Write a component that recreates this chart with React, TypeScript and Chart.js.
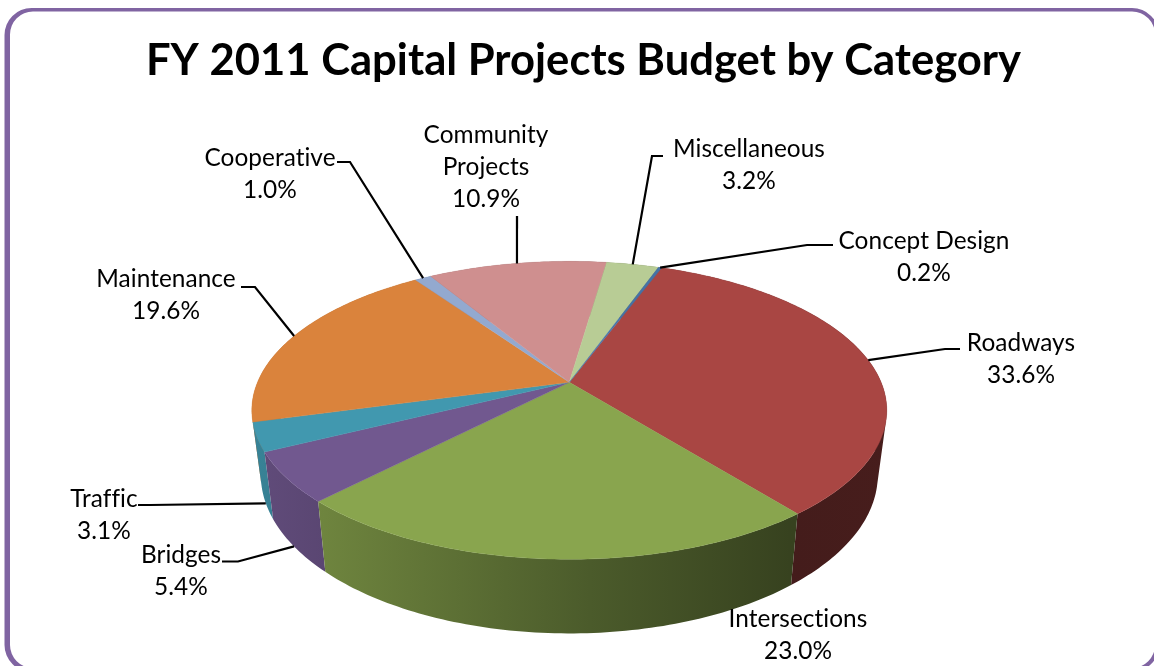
import React, { useEffect, useRef } from "react";
import { Chart, registerables } from "chart.js";

Chart.register(...registerables);

const CATEGORIES = ["Roadways", "Intersections", "Bridges", "Traffic", "Maintenance", "Cooperative", "Community Projects", "Miscellaneous", "Concept Design"];
const SHARES = [33.6, 23.0, 5.4, 3.1, 19.6, 1.0, 10.9, 3.2, 0.2];
const COLORS = ["#A94643", "#89A54E", "#71588F", "#4198AF", "#DA833C", "#93A9CF", "#CF8F8F", "#B8CC95", "#4572A7"];
const TITLE = "FY 2011 Capital Projects Budget by Category";

// Perspective of the tilted disc
const K = 0.188;
const APEX_X = 569.3;
const TOP_DISC = { cy: 382.3, rx: 311.8, ry: 143.7 };
const BOTTOM_DISC = { cy: 445, rx: 303, ry: 153 };
const FONT = "Lato, 'Open Sans', sans-serif";

type Disc = { cy: number; rx: number; ry: number };
const project = (d: Disc, theta: number, r = 1) => {
  const X = Math.cos(theta) * r;
  const Y = Math.sin(theta) * r;
  const w = 1 - K * Y;
  return { x: APEX_X + (d.rx * X) / w, y: d.cy + (d.ry * Y) / w };
};

// Label block centres and leader routes, by category order
type Lay = { lines: string[]; cx: number; y: number; knee?: [number, number][]; disc?: Disc };
const LAYOUT: Lay[] = [
  { lines: ["Roadways"], cx: 1021, y: 343, knee: [[960, 349], [945, 349]] },
  { lines: ["Intersections"], cx: 798, y: 619 },
  { lines: ["Bridges"], cx: 181, y: 555, knee: [[222, 561.5], [238, 561.5]], disc: BOTTOM_DISC },
  { lines: ["Traffic"], cx: 104, y: 499, knee: [[138, 505], [150, 505]], disc: BOTTOM_DISC },
  { lines: ["Maintenance"], cx: 166, y: 279, knee: [[241, 287], [255, 287]] },
  { lines: ["Cooperative"], cx: 270, y: 158, knee: [[337, 162], [350, 162]] },
  { lines: ["Community", "Projects"], cx: 486, y: 135, knee: [[517, 216]] },
  { lines: ["Miscellaneous"], cx: 749, y: 149, knee: [[663, 156], [652, 156]] },
  { lines: ["Concept Design"], cx: 924, y: 241, knee: [[833, 245], [807, 245]] },
];

const shade = (hex: string, f: number) => {
  const n = parseInt(hex.slice(1), 16);
  const c = [(n >> 16) & 255, (n >> 8) & 255, n & 255].map((v) => Math.round(v * f));
  return `rgb(${c[0]},${c[1]},${c[2]})`;
};

const WALL_SHADE: [number, number][] = [[250, 0.86], [325, 0.8], [590, 0.55], [790, 0.4], [890, 0.42]];

const drawPie3D = {
  id: "pie3d",
  beforeDraw(chart: any) {
    const ctx = chart.ctx;
    ctx.save();
    ctx.fillStyle = "#fff";
    ctx.fillRect(0, 0, chart.width, chart.height);
    ctx.fillStyle = "#8064A2";
    ctx.beginPath();
    ctx.roundRect(4.5, 8, 1154.5, 664, 27);
    ctx.roundRect(10, 11.5, 1145, 656.5, 23);
    ctx.fill("evenodd");
    ctx.restore();
  },
  beforeDatasetsDraw(chart: any) {
    const ctx = chart.ctx;
    const arcs = chart.getDatasetMeta(0).data as any[];
    const steps = (a: any) => Math.max(2, Math.ceil(((a.endAngle - a.startAngle) * 180) / Math.PI));
    ctx.save();

    // Outer walls, back to front. Each wall is a run of small quads between the
    // two rims, all wound the same way, so the silhouette between rims is filled.
    const order = arcs
      .map((a, i) => ({ a, i, depth: Math.sin((a.startAngle + a.endAngle) / 2) }))
      .sort((p, q) => p.depth - q.depth);
    for (const { a, i } of order) {
      const n = steps(a);
      const g = ctx.createLinearGradient(250, 0, 890, 0);
      for (const [x, f] of WALL_SHADE) g.addColorStop((x - 250) / 640, shade(COLORS[i], f));
      const at = (s: number) => a.startAngle + ((a.endAngle - a.startAngle) * s) / n;
      ctx.beginPath();
      for (let s = 0; s < n; s++) {
        const q = [project(TOP_DISC, at(s)), project(TOP_DISC, at(s + 1)), project(BOTTOM_DISC, at(s + 1)), project(BOTTOM_DISC, at(s))];
        let area = 0;
        q.forEach((p, k) => {
          const o = q[(k + 1) % 4];
          area += p.x * o.y - o.x * p.y;
        });
        if (area < 0) q.reverse();
        q.forEach((p, k) => (k ? ctx.lineTo(p.x, p.y) : ctx.moveTo(p.x, p.y)));
        ctx.closePath();
      }
      ctx.fillStyle = g;
      ctx.fill("nonzero");
    }

    // Top face
    arcs.forEach((a, i) => {
      const n = steps(a);
      ctx.beginPath();
      ctx.moveTo(APEX_X, TOP_DISC.cy);
      for (let s = 0; s <= n; s++) {
        const p = project(TOP_DISC, a.startAngle + ((a.endAngle - a.startAngle) * s) / n);
        ctx.lineTo(p.x, p.y);
      }
      ctx.closePath();
      ctx.fillStyle = COLORS[i];
      ctx.strokeStyle = COLORS[i];
      ctx.lineWidth = 0.4;
      ctx.fill();
      ctx.stroke();
    });

    // Leader lines
    ctx.strokeStyle = "#000";
    ctx.lineWidth = 2.2;
    ctx.lineJoin = "miter";
    arcs.forEach((a, i) => {
      const lay = LAYOUT[i];
      if (!lay.knee) return;
      const end = project(lay.disc ?? TOP_DISC, (a.startAngle + a.endAngle) / 2);
      ctx.beginPath();
      lay.knee.forEach(([x, y], k) => (k ? ctx.lineTo(x, y) : ctx.moveTo(x, y)));
      ctx.lineTo(end.x, end.y);
      ctx.stroke();
    });

    // Labels
    ctx.fillStyle = "#000";
    ctx.font = `24.4px ${FONT}`;
    ctx.letterSpacing = "0.05px"; // keeps "ti" and "ffi" as separate letters
    ctx.textAlign = "center";
    ctx.textBaseline = "middle";
    LAYOUT.forEach((lay, i) => {
      const rows = [...lay.lines, `${SHARES[i].toFixed(1)}%`];
      rows.forEach((t, r) => ctx.fillText(t, lay.cx, lay.y + r * 32.3));
    });
    ctx.restore();
    return false;
  },
};

export default function App() {
  const ref = useRef<HTMLCanvasElement>(null);
  useEffect(() => {
    const chart = new Chart(ref.current!, {
      type: "pie",
      data: {
        labels: CATEGORIES,
        datasets: [{ data: SHARES, backgroundColor: COLORS, borderWidth: 0 }],
      },
      options: {
        animation: false,
        responsive: false,
        rotation: 20.4,
        layout: { padding: { left: 13 } },
        plugins: {
          legend: { display: false },
          tooltip: { enabled: false },
          title: {
            display: true,
            text: TITLE,
            color: "#000",
            font: { family: FONT, size: 43.6, weight: "bold", lineHeight: 1.2 },
            padding: { top: 35, bottom: 0 },
          },
        },
      },
      plugins: [drawPie3D],
    } as any);
    return () => chart.destroy();
  }, []);
  return (
    <div style={{ position: "fixed", left: 0, top: 0, width: 1154, height: 666 }}>
      <canvas ref={ref} width={1154} height={666} style={{ display: "block" }} />
    </div>
  );
}
